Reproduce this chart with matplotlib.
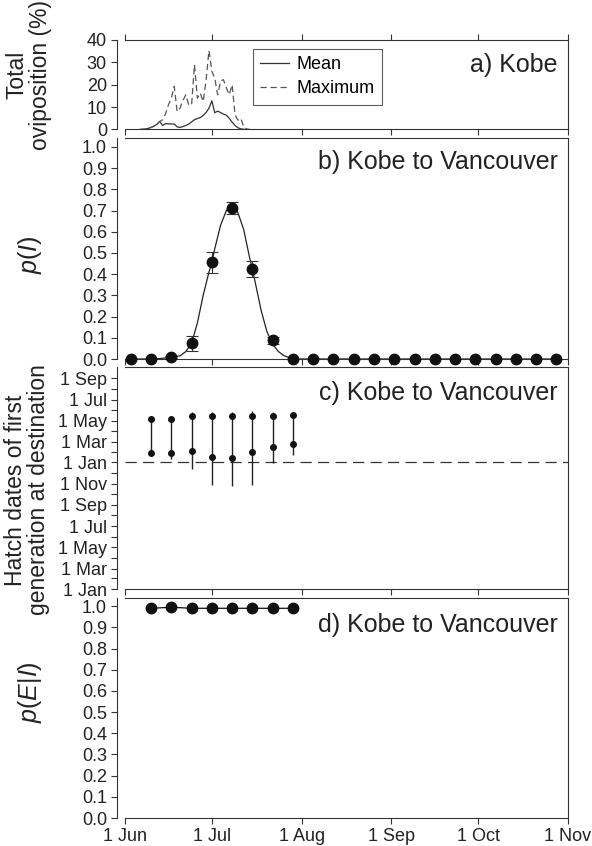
import matplotlib
matplotlib.use("Agg")
import matplotlib.pyplot as plt

plt.rcParams["font.family"] = ["Liberation Sans", "DejaVu Sans"]
plt.rcParams["mathtext.fontset"] = "custom"
plt.rcParams["mathtext.rm"] = "Liberation Sans"
plt.rcParams["mathtext.it"] = "Liberation Sans:italic"

# x axis is days after 1 Jun
month_days = [0, 30, 61, 92, 122, 153]
month_labels = ["1 Jun", "1 Jul", "1 Aug", "1 Sep", "1 Oct", "1 Nov"]

# a) daily oviposition at Kobe (%)
ovi_day = list(range(5, 44))
ovi_mean = [0, 0.1, 0.2, 0.5, 0.9, 1.5, 2.3, 3.6, 1.8, 2.6, 2.5, 2.5, 2.4, 1.2,
            0.9, 1.3, 1.8, 2.4, 3.4, 4.4, 4.9, 5.3, 6.3, 7.6, 9.5, 12.8, 7.5, 8.2,
            7.6, 6.9, 6.4, 5.0, 3.3, 1.8, 0.8, 0.3, 0.1, 0.0, 0.0]
ovi_max = [0, 0.1, 0.2, 0.5, 0.9, 1.5, 2.3, 3.6, 4.3, 7, 11, 14, 19.3, 8,
           9.5, 13, 15.5, 11, 11, 29, 14, 16.3, 12.5, 22, 35.3, 26, 23, 15.5,
           21.6, 22.3, 18.6, 15.5, 20, 6.5, 4.2, 5, 1.2, 0.3, 0]

# b) weekly departures, p(I)
week_day = [2, 9, 16, 23, 30, 37, 44, 51, 58, 65, 72, 79, 86, 93, 100, 107,
            114, 121, 128, 135, 142, 149]
p_I = [0, 0, 0.01, 0.074, 0.455, 0.71, 0.424, 0.088, 0, 0, 0, 0, 0, 0, 0, 0,
       0, 0, 0, 0, 0, 0]
p_I_err = [0, 0, 0.005, 0.035, 0.05, 0.028, 0.037, 0.018, 0, 0, 0, 0, 0, 0,
           0, 0, 0, 0, 0, 0, 0, 0]
fit_day = [2, 8, 12, 16, 19, 21, 23, 25, 27, 29, 30, 31, 33, 35, 36, 37, 38,
           39, 41, 43, 44, 45, 47, 49, 51, 53, 55, 57, 59, 149]
fit_p = [0, 0, 0.002, 0.008, 0.015, 0.035, 0.075, 0.17, 0.30, 0.41, 0.455,
         0.52, 0.63, 0.70, 0.715, 0.72, 0.715, 0.69, 0.61, 0.48, 0.424, 0.36,
         0.23, 0.13, 0.07, 0.035, 0.015, 0.005, 0, 0]

# c) hatch dates at destination, days after 1 Jan of departure year
hatch_day = [9, 16, 23, 30, 37, 44, 51, 58]
hatch_hi = [491, 489, 498, 499, 499, 499, 499, 503]
hatch_lo = [393, 392, 399, 380, 378, 395, 410, 418]
range_hi = [491, 491, 509, 511, 511, 514, 511, 511]
range_lo = [393, 376, 345, 301, 296, 301, 362, 386]
hatch_ticks = [0, 59, 120, 181, 243, 304, 365, 424, 485, 546, 608]
hatch_minor = [31, 90, 151, 212, 273, 334, 396, 455, 516, 577]
hatch_labels = ["1 Jan", "1 Mar", "1 May", "1 Jul", "1 Sep", "1 Nov",
                "1 Jan", "1 Mar", "1 May", "1 Jul", "1 Sep"]

# d) p(E|I)
p_EI = [0.99, 0.995, 0.99, 0.99, 0.99, 0.99, 0.99, 0.99]

ink = "#222222"
W, H = 592, 846
fig = plt.figure(figsize=(W / 100, H / 100), dpi=100)


def panel(top, bottom):
    return fig.add_axes([125 / W, 1 - bottom / H, 443 / W, (bottom - top) / H])


def style(ax, ylim, yticks, ylabels):
    ax.set_xlim(0, 153)
    ax.set_ylim(ylim)
    for s in ax.spines.values():
        s.set_color("#333333")
        s.set_linewidth(0.8)
    ax.spines["left"].set_position(("outward", 6))
    ax.set_xticks(month_days)
    ax.set_xticklabels([])
    ax.set_yticks(yticks)
    ax.set_yticklabels(ylabels)
    ax.tick_params(axis="both", direction="out", length=4, width=0.8,
                   color="#333333", labelsize=13, labelcolor=ink, pad=3)


# a)
ax_a = panel(40, 129.5)
ax_a.plot(ovi_day, ovi_mean, color="#333333", lw=0.9, label="Mean")
ax_a.plot(ovi_day, ovi_max, color="#555555", lw=0.9, dashes=(5, 3),
          label="Maximum")
style(ax_a, (0, 40), [0, 10, 20, 30, 40], ["0", "10", "20", "30", "40"])
ax_a.tick_params(axis="x", top=True)
leg = ax_a.legend(loc="upper left", bbox_to_anchor=(0.289, 0.9), fontsize=13,
                  frameon=True, fancybox=False, handlelength=1.6,
                  borderpad=0.4, labelspacing=0.4, handletextpad=0.4,
                  borderaxespad=0)
leg.get_frame().set_edgecolor("#333333")
leg.get_frame().set_linewidth(0.8)
ax_a.text(0.977, 0.72, "a) Kobe", transform=ax_a.transAxes, ha="right",
          va="center", fontsize=18, color=ink)

ytk = [i / 10 for i in range(11)]
ytl = ["%.1f" % v for v in ytk]

# b)
ax_b = panel(138, 359)
ax_b.plot(fit_day, fit_p, color="#222222", lw=0.9, clip_on=False)
ax_b.errorbar(week_day, p_I, yerr=p_I_err, fmt="o", color="#111111", ms=7.5,
              ecolor="#333333", elinewidth=0.8, capsize=4, capthick=0.8,
              clip_on=False, zorder=3)
style(ax_b, (0, 1.042), ytk, ytl)
ax_b.text(0.977, 0.891, "b) Kobe to Vancouver", transform=ax_b.transAxes,
          ha="right", va="center", fontsize=18, color=ink)

# c)
ax_c = panel(367, 589)
ax_c.axhline(365, color="#333333", lw=0.9, dashes=(9, 5))
ax_c.vlines(hatch_day, range_lo, range_hi, color="#222222", lw=1.0)
ax_c.plot(hatch_day, hatch_hi, "o", color="#111111", ms=4)
ax_c.plot(hatch_day, hatch_lo, "o", color="#111111", ms=4)
style(ax_c, (0, 640), hatch_ticks, hatch_labels)
ax_c.set_yticks(hatch_minor, minor=True)
ax_c.tick_params(axis="y", which="minor", direction="out", length=4,
                 width=0.8, color="#333333")
ax_c.text(0.977, 0.883, "c) Kobe to Vancouver", transform=ax_c.transAxes,
          ha="right", va="center", fontsize=18, color=ink)

# d)
ax_d = panel(597.7, 818)
ax_d.plot(hatch_day, p_EI, "-o", color="#111111", ms=7.5, lw=0.9,
          clip_on=False)
style(ax_d, (0, 1.04), ytk, ytl)
ax_d.set_xticklabels(month_labels)
ax_d.text(0.977, 0.876, "d) Kobe to Vancouver", transform=ax_d.transAxes,
          ha="right", va="center", fontsize=18, color=ink)

# y axis titles
fig.text(29 / W, 1 - 75 / H, "Total\noviposition (%)", rotation=90,
         ha="center", va="center", fontsize=16.5, color=ink, linespacing=1.0)
fig.text(30 / W, 1 - 255 / H, r"$p(I)$", rotation=90, ha="center",
         va="center", fontsize=18, color=ink)
fig.text(27 / W, 1 - 490 / H, "Hatch dates of first\ngeneration at destination",
         rotation=90, ha="center", va="center", fontsize=16.5, color=ink,
         linespacing=1.0)
fig.text(30 / W, 1 - 692 / H, r"$p(E|I)$", rotation=90, ha="center",
         va="center", fontsize=18, color=ink)

fig.savefig("out.png", dpi=100)
